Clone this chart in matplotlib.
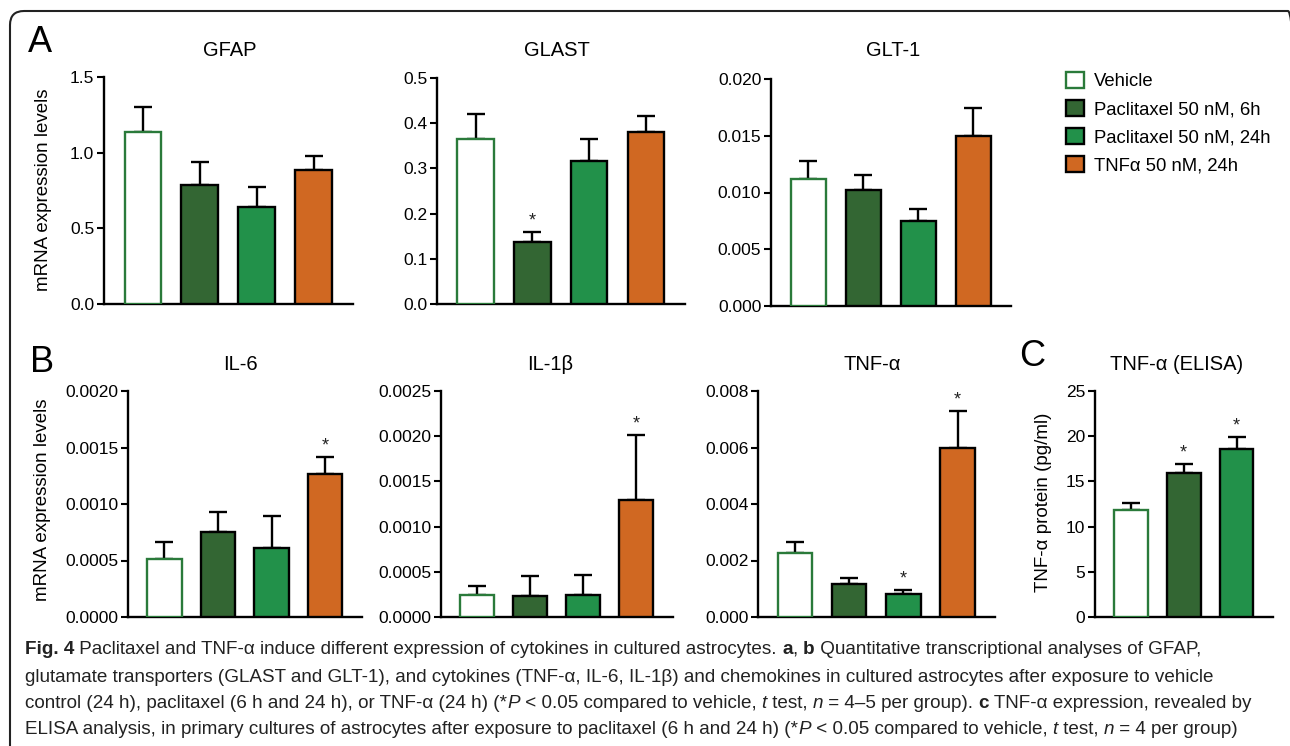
import matplotlib
matplotlib.use('Agg')
import matplotlib.pyplot as plt
from matplotlib.patches import Patch, FancyBboxPatch
from matplotlib.transforms import IdentityTransform
import numpy as np

plt.rcParams['font.family'] = ['Liberation Sans', 'DejaVu Sans']

W, H = 1290, 746

groups = ['Vehicle', 'Paclitaxel 50 nM, 6h', 'Paclitaxel 50 nM, 24h', 'TNFα 50 nM, 24h']
colors = ['white', '#336633', '#22914a', '#d06822']
edges = ['#2a7a3a', 'black', 'black', 'black']

# mean and SEM (upper error only)
gfap_mean = [1.135, 0.787, 0.643, 0.884]
gfap_sem = [0.165, 0.150, 0.128, 0.094]
glast_mean = [0.366, 0.138, 0.317, 0.381]
glast_sem = [0.054, 0.021, 0.049, 0.034]
glt1_mean = [0.01118, 0.0102, 0.00753, 0.01494]
glt1_sem = [0.0016, 0.0013, 0.0010, 0.00253]
il6_mean = [0.000516, 0.000755, 0.000608, 0.001268]
il6_sem = [0.000151, 0.000177, 0.000289, 0.000148]
il1b_mean = [0.000247, 0.000236, 0.000247, 0.001292]
il1b_sem = [0.000093, 0.000214, 0.000222, 0.000724]
tnf_mean = [0.002269, 0.001182, 0.000804, 0.005968]
tnf_sem = [0.000378, 0.000212, 0.000165, 0.001312]
elisa_mean = [11.82, 15.95, 18.54]
elisa_sem = [0.77, 0.93, 1.33]

# significant bars (* P < 0.05 vs vehicle)
glast_sig = [1]
il6_sig = [3]
il1b_sig = [3]
tnf_sig = [2, 3]
elisa_sig = [1, 2]

gfap_ticks = [0.0, 0.5, 1.0, 1.5]
glast_ticks = [0.0, 0.1, 0.2, 0.3, 0.4, 0.5]
glt1_ticks = [0.000, 0.005, 0.010, 0.015, 0.020]
il6_ticks = [0.0, 0.0005, 0.0010, 0.0015, 0.0020]
il1b_ticks = [0.0, 0.0005, 0.0010, 0.0015, 0.0020, 0.0025]
tnf_ticks = [0.000, 0.002, 0.004, 0.006, 0.008]
elisa_ticks = [0, 5, 10, 15, 20, 25]

fig = plt.figure(figsize=(W / 100, H / 100), dpi=100)


def px_axes(x0, y0, x1, y1):
    return fig.add_axes([x0 / W, 1 - y1 / H, (x1 - x0) / W, (y1 - y0) / H])


def bar_panel(box, title, tpos, mean, sem, ticks, fmt, sig=()):
    ax = px_axes(*box)
    n = len(mean)
    x = np.arange(n)
    ax.bar(x, mean, width=0.64, color=colors[:n], edgecolor=edges[:n],
           linewidth=1.7, zorder=3)
    ax.errorbar(x, mean, yerr=[np.zeros(n), sem], fmt='none', ecolor='black',
                elinewidth=1.7, capsize=6.5, capthick=1.7, zorder=2)
    for i in sig:
        ax.annotate('*', (x[i], mean[i] + sem[i]), xytext=(0, 8),
                    textcoords='offset points', ha='center', va='center',
                    fontsize=13, color='#222222')
    ax.set_xlim(-0.68, n - 0.31)
    ax.set_ylim(ticks[0], ticks[-1])
    ax.set_yticks(ticks)
    ax.set_yticklabels([fmt.format(t) for t in ticks], fontsize=12.5)
    ax.set_xticks([])
    for s in ['top', 'right']:
        ax.spines[s].set_visible(False)
    for s in ['left', 'bottom']:
        ax.spines[s].set_linewidth(1.7)
    ax.tick_params(axis='y', length=5, width=1.5, pad=2)
    fig.text(tpos[0] / W, 1 - tpos[1] / H, title, ha='center', va='center',
             fontsize=14.5)
    return ax


bar_panel((104, 77, 353, 304), 'GFAP', (230, 50), gfap_mean, gfap_sem, gfap_ticks, '{:.1f}')
bar_panel((437, 78, 685, 304), 'GLAST', (557, 50), glast_mean, glast_sem, glast_ticks, '{:.1f}', glast_sig)
bar_panel((771, 79, 1011, 306), 'GLT-1', (893, 50), glt1_mean, glt1_sem, glt1_ticks, '{:.3f}')
bar_panel((128, 391, 362, 617), 'IL-6', (240, 365), il6_mean, il6_sem, il6_ticks, '{:.4f}', il6_sig)
bar_panel((441, 391, 673, 617), 'IL-1β', (550, 365), il1b_mean, il1b_sem, il1b_ticks, '{:.4f}', il1b_sig)
bar_panel((758, 391, 995, 617), 'TNF-α', (872, 365), tnf_mean, tnf_sem, tnf_ticks, '{:.3f}', tnf_sig)
bar_panel((1095, 391, 1273, 617), 'TNF-α (ELISA)', (1177, 365), elisa_mean, elisa_sem, elisa_ticks, '{:.0f}', elisa_sig)

# y labels
fig.text(44 / W, 1 - 190 / H, 'mRNA expression levels', rotation=90, ha='center', va='center', fontsize=13.5)
fig.text(43 / W, 1 - 500 / H, 'mRNA expression levels', rotation=90, ha='center', va='center', fontsize=13.5)
fig.text(1043 / W, 1 - 502 / H, 'TNF-α protein (pg/ml)', rotation=90, ha='center', va='center', fontsize=13.5)

# panel letters
fig.text(40 / W, 1 - 43 / H, 'A', ha='center', va='center', fontsize=26)
fig.text(42 / W, 1 - 363 / H, 'B', ha='center', va='center', fontsize=26)
fig.text(1032 / W, 1 - 357 / H, 'C', ha='center', va='center', fontsize=26)

# legend
handles = [Patch(facecolor=c, edgecolor=e, linewidth=1.7) for c, e in zip(colors, edges)]
fig.legend(handles, groups, loc='upper left', bbox_to_anchor=(1066 / W, 1 - 72 / H),
           frameon=False, fontsize=13.3, handlelength=0.97, handleheight=0.97,
           handletextpad=0.55, labelspacing=0.52, borderpad=0, borderaxespad=0)

# rounded frame, running off the right and bottom edges
frame = FancyBboxPatch((10, -30), 1292, 30 + H - 11, boxstyle='round,pad=0,rounding_size=14',
                       transform=IdentityTransform(), facecolor='none',
                       edgecolor='#222222', linewidth=1.5, clip_on=False)
fig.add_artist(frame)

# caption with mixed styles
cap_family = ['Liberation Sans Narrow', 'Liberation Sans', 'DejaVu Sans']
R, B, I = ('normal', 'normal'), ('bold', 'normal'), ('normal', 'italic')
caption = [
    [('Fig. 4', B), (' Paclitaxel and TNF-α induce different expression of cytokines in cultured astrocytes. ', R),
     ('a', B), (', ', R), ('b', B), (' Quantitative transcriptional analyses of GFAP,', R)],
    [('glutamate transporters (GLAST and GLT-1), and cytokines (TNF-α, IL-6, IL-1β) and chemokines in cultured astrocytes after exposure to vehicle', R)],
    [('control (24 h), paclitaxel (6 h and 24 h), or TNF-α (24 h) (*', R), ('P', I), (' < 0.05 compared to vehicle, ', R),
     ('t', I), (' test, ', R), ('n', I), (' = 4–5 per group). ', R), ('c', B), (' TNF-α expression, revealed by', R)],
    [('ELISA analysis, in primary cultures of astrocytes after exposure to paclitaxel (6 h and 24 h) (*', R), ('P', I),
     (' < 0.05 compared to vehicle, ', R), ('t', I), (' test, ', R), ('n', I), (' = 4 per group)', R)],
]
cap_y = [650, 677, 703, 729]

renderer = fig.canvas.get_renderer()


def seg_width(s, size, weight, style):
    def w(txt):
        t = fig.text(0, 0, txt, fontsize=size, fontweight=weight, fontstyle=style, family=cap_family)
        ww = t.get_window_extent(renderer).width
        t.remove()
        return ww
    return w('|' + s + '|') - w('||')


ref = sum(seg_width(s, 10, *st) for s, st in caption[2])
cap_size = 10 * 1233 / ref

for line, y in zip(caption, cap_y):
    x = 25
    for s, (weight, style) in line:
        fig.text(x / W, 1 - y / H, s, fontsize=cap_size, fontweight=weight, fontstyle=style,
                 family=cap_family, va='center', ha='left', color='#222222')
        x += seg_width(s, cap_size, weight, style)

fig.savefig('out.png', dpi=100)
